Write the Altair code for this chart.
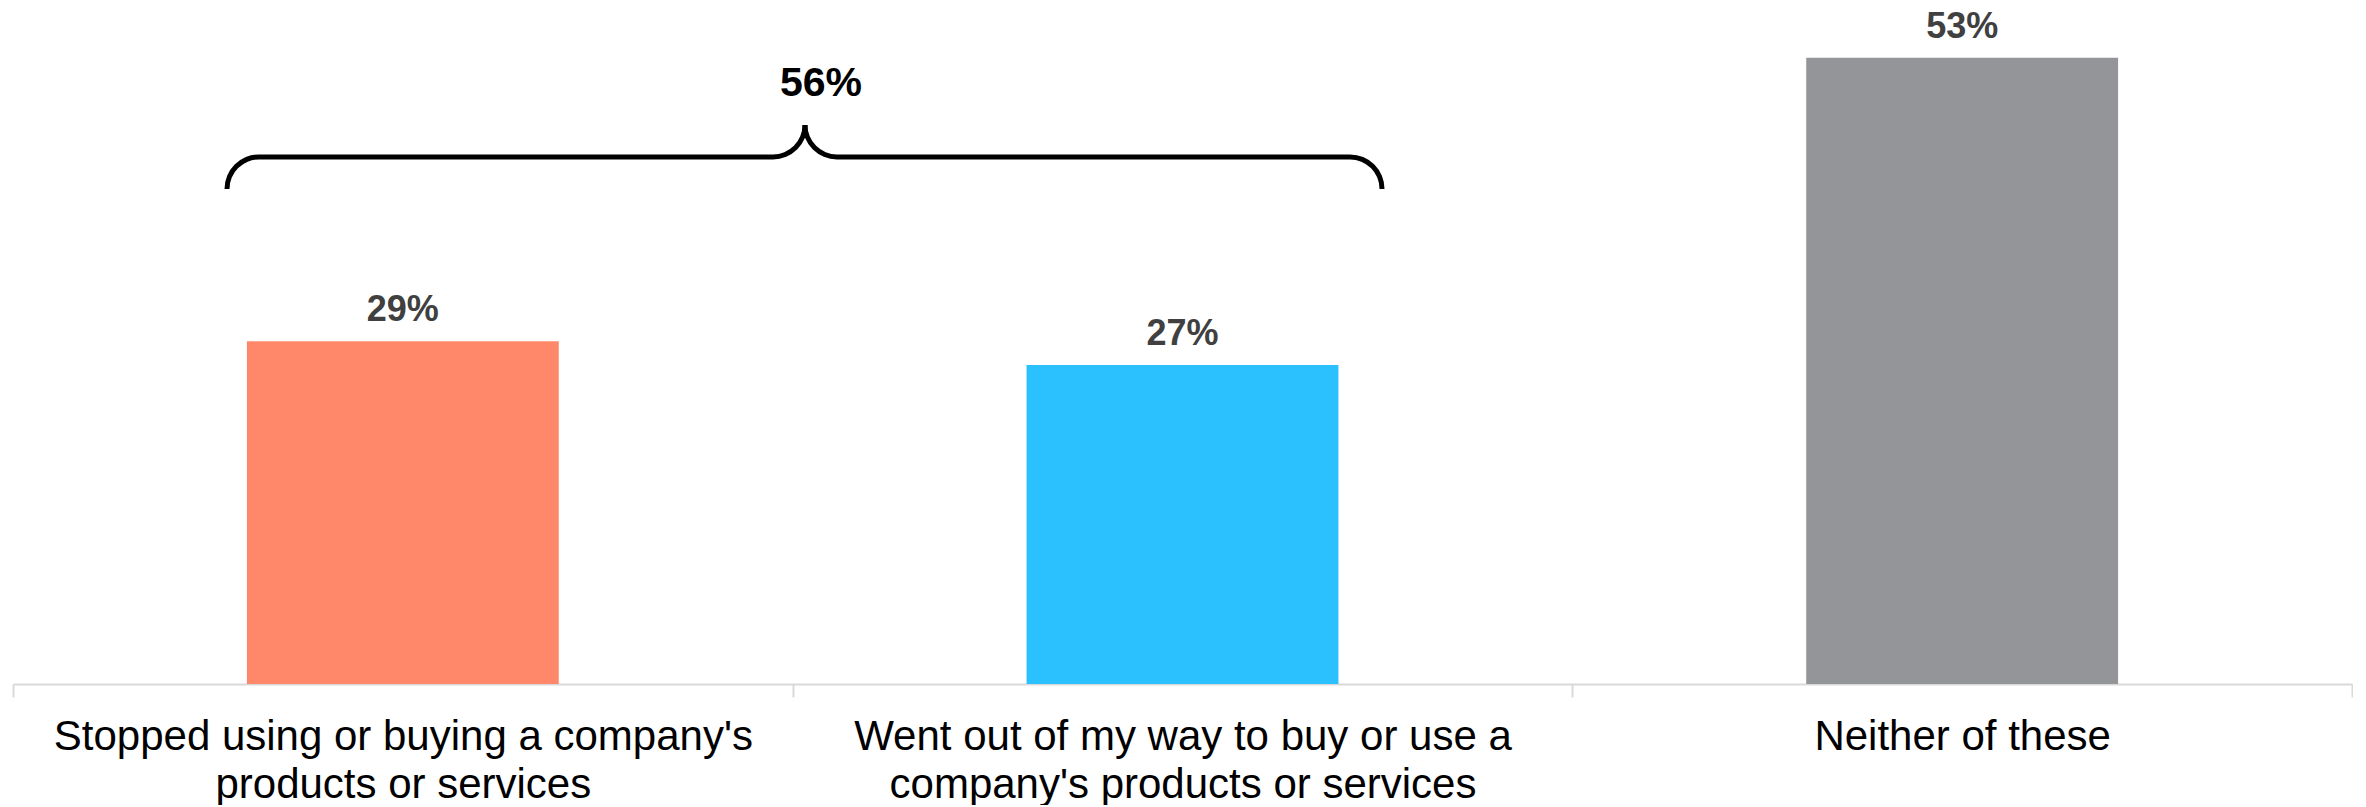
import math
import altair as alt
import pandas as pd

# ---- data ----
categories = [
    "Stopped using or buying a company's\nproducts or services",
    "Went out of my way to buy or use a\ncompany's products or services",
    "Neither of these",
]
values = [29, 27, 53]
value_labels = ["29%", "27%", "53%"]
colors = ["#FF886A", "#2BC0FE", "#939598"]

# brace annotation (x in band units 0..3, y in % units)
net_label = ["56%"]
brace_left = [0.2745]
brace_mid = [1.0158]
brace_right = [1.7559]
brace_y = [44.6]
net_label_y = [49.75]

# ---- layout / style ----
W, H = 2339, 676
Y_MAX = 57.2
R = 32      # brace corner radius (px)
SW = 5      # brace stroke width (px)
FONT = "Liberation Sans"

df = pd.DataFrame({"category": categories, "value": values,
                   "label": value_labels, "color": colors})
bdf = pd.DataFrame({"xl": brace_left, "xm": brace_mid, "xr": brace_right,
                    "y": brace_y, "ty": net_label_y, "t": net_label})

band = alt.Scale(paddingInner=0, paddingOuter=0)
yscale = alt.Scale(domain=[0, Y_MAX], nice=False, zero=True)
xq = alt.Scale(domain=[0, 3], nice=False, zero=False)

x_axis = alt.Axis(
    title=None, labelAngle=0, labelFontSize=42, labelColor="#000000", labelFont=FONT,
    labelLineHeight=48, labelBaseline="alphabetic", labelPadding=52, labelLimit=2000,
    labelExpr="split(datum.label, '\\n')",
    domainColor="#D9D9D9", domainWidth=2, tickColor="#D9D9D9", tickWidth=2,
    tickSize=13, tickBand="extent", grid=False,
)

bars = alt.Chart(df).mark_bar(width=alt.RelativeBandSize(0.4)).encode(
    x=alt.X("category:N", sort=categories, scale=band, axis=x_axis),
    y=alt.Y("value:Q", scale=yscale, axis=None),
    color=alt.Color("color:N", scale=None),
)

texts = alt.Chart(df).mark_text(
    dy=-20, baseline="alphabetic", fontSize=36, fontWeight="bold",
    color="#404040", font=FONT,
).encode(
    x=alt.X("category:N", sort=categories, scale=band, axis=None),
    y=alt.Y("value:Q", scale=yscale, axis=None),
    text="label:N",
)


def arc(xfield, xoff, yoff, t0, t1):
    return alt.Chart(bdf).mark_arc(
        theta=t0, theta2=t1, radius=R + SW / 2, radius2=R - SW / 2,
        xOffset=xoff, yOffset=yoff, color="#000000",
    ).encode(
        x=alt.X(f"{xfield}:Q", scale=xq, axis=None),
        y=alt.Y("y:Q", scale=yscale, axis=None),
    )


def rule(x1, x2):
    return alt.Chart(bdf).mark_rule(
        strokeWidth=SW, color="#000000", xOffset=R, x2Offset=-R,
    ).encode(
        x=alt.X(f"{x1}:Q", scale=xq, axis=None),
        x2=f"{x2}:Q",
        y=alt.Y("y:Q", scale=yscale, axis=None),
    )


pi = math.pi
brace = [
    arc("xl", R, R, 1.5 * pi, 2 * pi),
    rule("xl", "xm"),
    arc("xm", -R, -R, 0.5 * pi, pi),
    arc("xm", R, -R, pi, 1.5 * pi),
    rule("xm", "xr"),
    arc("xr", -R, R, 0, 0.5 * pi),
]

net_text = alt.Chart(bdf).mark_text(
    dx=16, baseline="alphabetic", fontSize=41, fontWeight="bold",
    color="#000000", font=FONT,
).encode(
    x=alt.X("xm:Q", scale=xq, axis=None),
    y=alt.Y("ty:Q", scale=yscale, axis=None),
    text="t:N",
)

chart = alt.layer(bars, texts, *brace, net_text).resolve_scale(
    x="independent"
).properties(
    width=W, height=H,
    padding={"left": 4, "top": 0, "right": 0, "bottom": 0},
).configure(font=FONT).configure_view(stroke=None, strokeWidth=0)

chart.save("out.html", embed_options={"renderer": "svg", "actions": False})
